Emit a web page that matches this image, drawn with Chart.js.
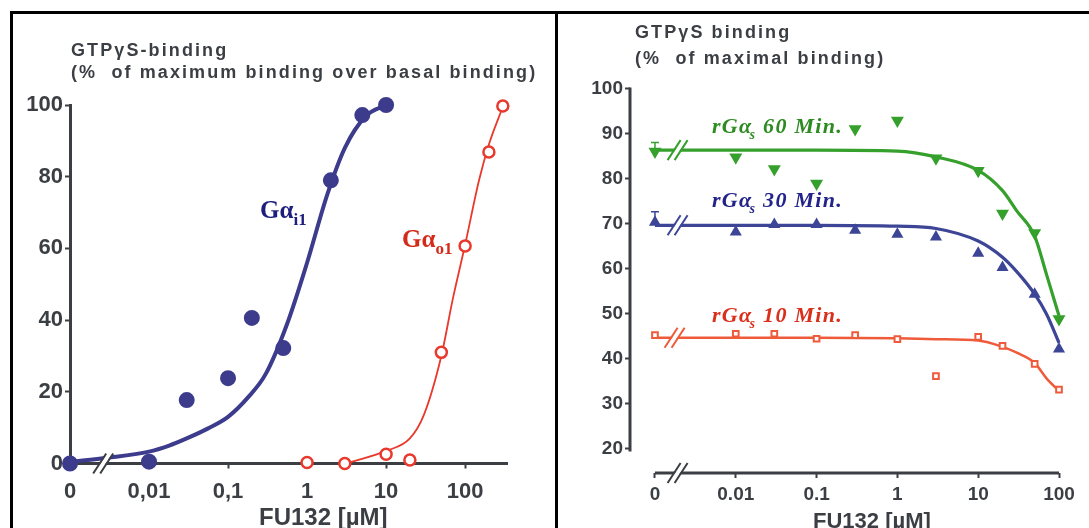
<!DOCTYPE html>
<html>
<head>
<meta charset="utf-8">
<script src="https://cdn.jsdelivr.net/npm/chart.js@4.4.1/dist/chart.umd.min.js"></script>
<style>
body { margin:0; width:1089px; height:528px; overflow:hidden; background:#fff; position:relative; font-family:"Liberation Sans", Arial, sans-serif; }
.panel { position:absolute; box-sizing:border-box; border:3px solid #000; }
#panelA { left:10px; top:11px; width:548px; height:600px; }
#panelB { left:555px; top:11px; width:600px; height:600px; border-right:none; border-bottom:none; }
canvas { position:absolute; top:0; }
#chartA { left:0; }
#chartB { left:557px; }
.title { position:absolute; font-weight:bold; font-size:18px; letter-spacing:2.1px; color:#3b3f44; white-space:pre; }
.axt { position:absolute; font-weight:bold; color:#3b3f44; white-space:pre; }
.lbl { position:absolute; font-family:"Liberation Serif", "Times New Roman", serif; font-weight:bold; white-space:nowrap; }
.lbl.it { font-style:italic; font-size:22px; line-height:22px; letter-spacing:1.3px; }
.sub { position:relative; }
</style>
</head>
<body>
<div class="panel" id="panelA"></div>
<div class="panel" id="panelB"></div>
<canvas id="chartA" width="557" height="528"></canvas>
<canvas id="chartB" width="532" height="528"></canvas>

<div class="title" style="left:71px;top:39px;line-height:22px">GTPγS-binding
(%  of maximum binding over basal binding)</div>
<div class="title" style="left:635px;top:19px;line-height:26px">GTPγS binding
(%  of maximal binding)</div>
<div class="axt" style="left:259px;top:505px;font-size:24px;line-height:24px">FU132 [µM]</div>
<div class="axt" style="left:813px;top:510px;font-size:22px;line-height:22px">FU132 [µM]</div>

<div class="lbl" style="left:260px;top:197px;font-size:25px;line-height:25px;color:#1e1e7e">Gα<span class="sub" style="font-size:17px;top:7px">i1</span></div>
<div class="lbl" style="left:402px;top:226px;font-size:25px;line-height:25px;color:#d42a1a">Gα<span class="sub" style="font-size:17px;top:7px">o1</span></div>
<div class="lbl it" style="left:712px;top:115px;color:#2e8b22">rGα<span class="sub" style="font-size:14px;top:6px;margin-left:-3px">s</span> 60 Min.</div>
<div class="lbl it" style="left:712px;top:189px;color:#23238a">rGα<span class="sub" style="font-size:14px;top:6px;margin-left:-3px">s</span> 30 Min.</div>
<div class="lbl it" style="left:712px;top:304px;color:#d9301c">rGα<span class="sub" style="font-size:14px;top:6px;margin-left:-3px">s</span> 10 Min.</div>

<script>
// left panel: G alpha i1 (filled) and G alpha o1 (open), conc in uM
var concI1 = [0, 0.01, 0.03, 0.1, 0.2, 0.5, 2, 5, 10];
var valI1 = [0, 0.5, 17.7, 23.8, 40.6, 32.2, 79, 97.2, 100];
var fitConcI1 = [0, 0.003, 0.01, 0.018, 0.03, 0.056, 0.1, 0.18, 0.3, 0.56, 1, 1.8, 3, 5.6, 10];
var fitI1 = [0.5, 1.6, 3.3, 5, 7, 9.8, 13, 18.5, 25, 39, 56, 75, 88, 97, 100];
var concO1 = [1, 3, 10, 20, 50, 100, 200, 300];
var valO1 = [0.3, 0, 2.6, 1, 31, 60.7, 86.9, 99.7];
var fitConcO1 = [3.5, 10, 20, 30, 50, 70, 100, 150, 200, 300];
var fitO1 = [0.3, 3.5, 7, 13.5, 30, 46, 61, 79, 89, 99.5];
var xTicksA = ['0', '0,01', '0,1', '1', '10', '100'];
var yTicksA = [0, 20, 40, 60, 80, 100];

// right panel: rGas after 60, 30, 10 min
var concB = [0, 0.01, 0.03, 0.1, 0.3, 1, 3, 10, 20, 50, 100];
var min60 = [86.0, 84.7, 82.1, 78.9, 91.0, 92.9, 84.5, 81.7, 72.2, 67.9, 48.8];
var min30 = [70.3, 68.1, 69.8, 69.8, 68.5, 67.6, 67.0, 63.4, 60.2, 54.3, 42.1];
var min10 = [45.2, 45.5, 45.5, 44.4, 45.2, 44.3, 36.1, 44.8, 42.8, 38.8, 33.1];
var fitConcB = [0, 0.01, 0.1, 1, 3, 10, 20, 30, 50, 70, 100];
var fit60 = [86.3, 86.3, 86.3, 86.1, 84.8, 81.8, 77.3, 72.8, 67.2, 58.7, 49.5];
var fit30 = [69.6, 69.6, 69.6, 69.4, 68.9, 66.1, 62.5, 59.3, 54.3, 49.9, 43.5];
var fit10 = [44.6, 44.6, 44.6, 44.5, 44.3, 44.0, 42.6, 41.3, 39.0, 35.6, 32.8];
var errTop60 = 88.0;
var errTop30 = 72.6;
var xTicksB = ['0', '0.01', '0.1', '1', '10', '100'];
var yTicksB = [20, 30, 40, 50, 60, 70, 80, 90, 100];

var axisColor = '#3b3f44';
var navy = '#3c3b8c', redA = '#e8392c';
var green = '#36a02c', blueB = '#3d4596', redB = '#ef5a3a';

// zero is drawn one decade left of 0.01
function lx(c) { return c === 0 ? -3 : Math.log10(c); }
function pts(cs, vs) { return cs.map(function (c, i) { return { x: lx(c), y: vs[i] }; }); }
function tickPos(labels) { return labels.map(function (l, i) { return i - 3; }); }

function drawBreak(ctx, x, y, color) {
    ctx.save();
    ctx.fillStyle = '#fff';
    ctx.beginPath();
    ctx.moveTo(x - 9, y + 10); ctx.lineTo(x + 4, y - 10); ctx.lineTo(x + 9, y - 10); ctx.lineTo(x - 4, y + 10);
    ctx.closePath(); ctx.fill();
    ctx.strokeStyle = color; ctx.lineWidth = 2;
    ctx.beginPath();
    ctx.moveTo(x - 10, y + 10); ctx.lineTo(x + 3, y - 10);
    ctx.moveTo(x - 3, y + 10); ctx.lineTo(x + 10, y - 10);
    ctx.stroke();
    ctx.restore();
}

function curve(data, color, width) {
    return { type: 'line', data: data, borderColor: color, borderWidth: width, pointRadius: 0,
             cubicInterpolationMode: 'monotone', fill: false, clip: false, order: 2 };
}
function marks(data, style) {
    return Object.assign({ type: 'scatter', data: data, clip: false, order: 1, borderWidth: 2 }, style);
}

function scales(xLabels, xMin, xMax, xFont, xPad, yTicks, yMin, yMax, yFont, yWidth, xHeight, border) {
    return {
        x: {
            type: 'linear', min: xMin, max: xMax,
            afterBuildTicks: function (s) { s.ticks = tickPos(xLabels).map(function (v) { return { value: v }; }); },
            afterFit: function (s) { s.height = xHeight; },
            ticks: { callback: function (v) { return xLabels[v + 3]; }, font: { size: xFont, weight: 'bold' }, color: axisColor, padding: xPad, maxRotation: 0, autoSkip: false },
            grid: { display: true, drawOnChartArea: false, drawTicks: true, tickLength: 5, tickWidth: 2, tickColor: axisColor },
            border: { display: border, color: axisColor, width: 3 }
        },
        y: {
            type: 'linear', min: yMin, max: yMax,
            afterBuildTicks: function (s) { s.ticks = yTicks.map(function (v) { return { value: v }; }); },
            afterFit: function (s) { s.width = yWidth; },
            ticks: { font: { size: yFont, weight: 'bold' }, color: axisColor, padding: 2 },
            grid: { display: true, drawOnChartArea: false, drawTicks: true, tickLength: 5, tickWidth: 2, tickColor: axisColor },
            border: { display: border, color: axisColor, width: 3 }
        }
    };
}

Chart.defaults.font.family = '"Liberation Sans", Arial, sans-serif';

new Chart(document.getElementById('chartA').getContext('2d'), {
    type: 'scatter',
    data: {
        datasets: [
            curve(pts(fitConcI1, fitI1), navy, 4),
            curve(pts(fitConcO1, fitO1), redA, 1.8),
            marks(pts(concI1, valI1), { pointRadius: 7, pointBackgroundColor: navy, pointBorderColor: navy }),
            marks(pts(concO1, valO1), { pointRadius: 5.5, pointBackgroundColor: '#fff', pointBorderColor: redA, pointBorderWidth: 2.5 })
        ]
    },
    options: {
        responsive: false, animation: false,
        layout: { padding: { top: 105, right: 50, bottom: 0, left: 0 } },
        plugins: { legend: { display: false }, tooltip: { enabled: false } },
        scales: scales(xTicksA, -3, 2.53, 22, 10, yTicksA, 0, 100, 22, 70, 64.5, true)
    },
    plugins: [{
        id: 'breakA',
        afterDatasetsDraw: function (chart) {
            var xs = chart.scales.x, ys = chart.scales.y;
            drawBreak(chart.ctx, xs.getPixelForValue(-2.58), ys.getPixelForValue(0), axisColor);
        }
    }]
});

new Chart(document.getElementById('chartB').getContext('2d'), {
    type: 'scatter',
    data: {
        datasets: [
            curve(pts(fitConcB, fit60), green, 3.2),
            curve(pts(fitConcB, fit30), blueB, 3.2),
            curve(pts(fitConcB, fit10), redB, 2.5),
            marks(pts(concB, min60), { pointStyle: 'triangle', rotation: 180, pointRadius: 5.5, pointBackgroundColor: green, pointBorderColor: green }),
            marks(pts(concB, min30), { pointStyle: 'triangle', pointRadius: 5, pointBackgroundColor: blueB, pointBorderColor: blueB }),
            marks(pts(concB, min10), { pointStyle: 'rect', pointRadius: 4, pointBackgroundColor: '#fff', pointBorderColor: redB, pointBorderWidth: 2 })
        ]
    },
    options: {
        responsive: false, animation: false,
        layout: { padding: { top: 88.5, right: 30, bottom: 0, left: 0 } },
        plugins: { legend: { display: false }, tooltip: { enabled: false } },
        scales: scales(xTicksB, -3.309, 2, 19, 5, yTicksB, 14.56, 100, 19, 73, 55, false)
    },
    plugins: [{
        id: 'axesB',
        beforeDatasetsDraw: function (chart) {
            var ctx = chart.ctx, xs = chart.scales.x, ys = chart.scales.y, a = chart.chartArea;
            ctx.save();
            ctx.strokeStyle = axisColor; ctx.lineWidth = 3;
            ctx.beginPath();
            ctx.moveTo(a.left, ys.getPixelForValue(100) - 1);
            ctx.lineTo(a.left, ys.getPixelForValue(20) + 3);
            ctx.moveTo(xs.getPixelForValue(-3), a.bottom);
            ctx.lineTo(xs.getPixelForValue(2), a.bottom);
            ctx.stroke();
            // error bars on the zero points
            ctx.lineWidth = 1.5;
            [[min60[0], errTop60, green], [min30[0], errTop30, blueB]].forEach(function (e) {
                var x = xs.getPixelForValue(-3), y0 = ys.getPixelForValue(e[0]), y1 = ys.getPixelForValue(e[1]);
                ctx.strokeStyle = e[2];
                ctx.beginPath();
                ctx.moveTo(x, y0); ctx.lineTo(x, y1);
                ctx.moveTo(x - 4, y1); ctx.lineTo(x + 4, y1);
                ctx.stroke();
            });
            ctx.restore();
        },
        afterDatasetsDraw: function (chart) {
            var xs = chart.scales.x, ys = chart.scales.y, bx = xs.getPixelForValue(-2.72);
            drawBreak(chart.ctx, bx, chart.chartArea.bottom, axisColor);
            drawBreak(chart.ctx, bx, ys.getPixelForValue(fit60[0]), green);
            drawBreak(chart.ctx, bx, ys.getPixelForValue(fit30[0]), blueB);
            drawBreak(chart.ctx, bx - 3, ys.getPixelForValue(fit10[0]), redB);
        }
    }]
});
</script>
</body>
</html>
